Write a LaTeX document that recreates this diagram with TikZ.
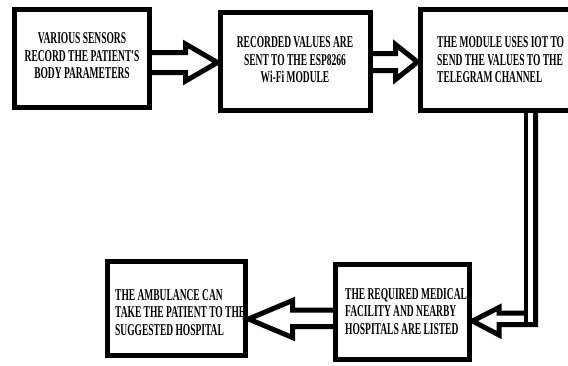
\documentclass[tikz,border=0pt]{standalone}
\usepackage{fontspec}
\newfontfamily\boxfont[FakeStretch=0.575]{Liberation Serif}
\usetikzlibrary{calc}
\begin{document}
\begin{tikzpicture}[x=1pt,y=-1pt,
  box/.style={draw=black,line width=5pt,fill=white,outer sep=0pt,inner sep=0pt,anchor=north west},
  txt/.style={font=\boxfont\bfseries\fontsize{16.5}{17.5}\selectfont,inner sep=0pt,text=black},
  blk/.style={draw=black,line width=5pt,line join=miter,fill=none}]
\useasboundingbox (0,0) rectangle (568,365);
% boxes
\node[box,minimum width=135pt,minimum height=98pt] (b1) at (14.5,9.5) {};
\node[box,minimum width=150pt,minimum height=98pt] (b2) at (220.5,12.5) {};
\node[box,minimum width=180pt,minimum height=101pt] (b3) at (420.5,9.5) {};
\node[box,minimum width=134pt,minimum height=95pt] (b4) at (335.5,264.5) {};
\node[box,minimum width=138pt,minimum height=94.5pt] (b5) at (107.5,261) {};
% texts
\node[txt,align=center] (t1) at (82,56) {VARIOUS SENSORS\\RECORD THE PATIENT'S\\BODY PARAMETERS};
\node[txt,align=center] (t2) at (295,60) {RECORDED VALUES ARE\\SENT TO THE ESP8266\\Wi-Fi MODULE};
\node[txt,align=left,anchor=west] (t3) at (437,60) {THE MODULE USES IOT TO\\SEND THE VALUES TO THE\\TELEGRAM CHANNEL};
\node[txt,align=left,anchor=west] (t4) at (345,311.5) {THE REQUIRED MEDICAL\\FACILITY AND NEARBY\\HOSPITALS ARE LISTED};
\node[txt,align=left,anchor=west] (t5) at (115,312.5) {THE AMBULANCE CAN\\TAKE THE PATIENT TO THE\\SUGGESTED HOSPITAL};
% arrow 1: b1 -> b2
\draw[blk] (b1.east |- 0,52.5) -- (185.5,52.5) -- (185.5,44) -- ($(b2.west |- 0,62.5)+(-3,0)$) -- (185.5,81) -- (185.5,72.5) -- (b1.east |- 0,72.5);
% arrow 2: b2 -> b3
\draw[blk] (b2.east |- 0,53.5) -- (395.5,53.5) -- (395.5,44.5) -- ($(b3.west |- 0,62)+(-3,0)$) -- (395.5,79.5) -- (395.5,70.5) -- (b2.east |- 0,70.5);
% arrow 3: b3 -> b4 (elbow)
\draw[blk] (b3.south -| 535.5,0) -- (535.5,324.5) -- (499,324.5) -- (499,335) -- ($(b4.east |- 0,321)+(3,0)$) -- (499,307.5) -- (499,313) -- (526,313);
\draw[line width=4.5pt] (b3.south -| 526,0) -- (526,326.5);
% arrow 4: b4 -> b5
\draw[blk] (b4.west |- 0,310) -- (292.5,310) -- (292.5,300.5) -- ($(b5.east |- 0,319)+(3,0)$) -- (292.5,337.5) -- (292.5,326.5) -- (b4.west |- 0,326.5);
\end{tikzpicture}
\end{document}
